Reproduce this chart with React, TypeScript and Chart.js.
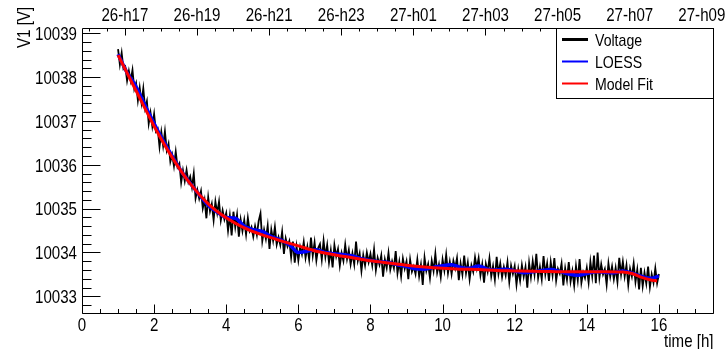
import React, { useEffect, useRef } from "react";
import { Chart, registerables } from "chart.js";

Chart.register(...registerables);

// ---------------- data ----------------
// Voltage samples, every 0.05 h from t = 1.00 h to t = 16.00 h
const T_START = 1.0;
const T_STEP = 0.05;
const VOLTAGE = [
  10038.64, 10038.29, 10038.55, 10038.19, 10038.24,
  10037.92, 10038.14, 10037.92, 10038.16, 10037.73,
  10037.86, 10037.47, 10037.76, 10037.42, 10037.74,
  10037.29, 10037.45, 10036.94, 10037.19, 10036.88,
  10037.16, 10036.76, 10036.82, 10036.41, 10036.75,
  10036.43, 10036.76, 10036.33, 10036.48, 10036.07,
  10036.23, 10035.97, 10036.30, 10035.95, 10036.03,
  10035.60, 10035.87, 10035.63, 10035.88, 10035.61,
  10035.73, 10035.49, 10035.80, 10035.24, 10035.43,
  10035.23, 10035.40, 10035.01, 10035.20, 10034.78,
  10035.26, 10034.94, 10035.11, 10034.74, 10035.16,
  10034.90, 10035.16, 10034.73, 10034.96, 10034.75,
  10034.90, 10034.50, 10034.84, 10034.39, 10034.93,
  10034.58, 10034.86, 10034.36, 10034.75, 10034.49,
  10034.74, 10034.41, 10034.79, 10034.49, 10034.58,
  10034.36, 10034.60, 10034.40, 10034.72, 10034.89,
  10034.26, 10034.52, 10034.31, 10034.61, 10034.08,
  10034.52, 10034.27, 10034.58, 10034.18, 10034.35,
  10034.17, 10034.47, 10033.97, 10034.32, 10034.14,
  10034.26, 10033.89, 10034.25, 10033.77, 10034.14,
  10033.82, 10034.13, 10033.96, 10034.24, 10033.88,
  10034.13, 10033.84, 10034.34, 10033.93, 10034.23,
  10033.82, 10034.10, 10034.19, 10033.84, 10034.27,
  10033.90, 10034.17, 10033.77, 10034.05, 10033.66,
  10034.17, 10033.91, 10034.08, 10033.70, 10033.99,
  10033.81, 10034.18, 10033.85, 10034.06, 10033.73,
  10033.98, 10033.73, 10034.25, 10033.81, 10033.98,
  10033.58, 10033.94, 10033.71, 10034.00, 10033.78,
  10033.97, 10033.71, 10034.07, 10033.60, 10033.88,
  10033.72, 10033.93, 10033.45, 10033.84, 10033.65,
  10033.99, 10033.61, 10033.80, 10033.64, 10034.03,
  10033.53, 10033.79, 10033.46, 10033.86, 10033.63,
  10033.80, 10033.39, 10033.84, 10033.56, 10033.68,
  10033.51, 10033.84, 10033.46, 10033.72, 10033.26,
  10033.88, 10033.58, 10033.74, 10033.42, 10033.81,
  10033.58, 10033.97, 10033.54, 10033.73, 10033.44,
  10033.84, 10033.59, 10033.95, 10033.53, 10033.79,
  10033.51, 10033.81, 10033.64, 10033.87, 10033.37,
  10033.75, 10033.50, 10033.93, 10033.53, 10033.77,
  10033.39, 10033.71, 10033.56, 10033.89, 10033.64,
  10033.87, 10033.48, 10033.73, 10033.31, 10033.74,
  10033.56, 10033.87, 10033.46, 10033.69, 10033.38,
  10033.90, 10033.51, 10033.75, 10033.44, 10033.67,
  10033.48, 10033.78, 10033.33, 10033.70, 10033.51,
  10033.69, 10033.27, 10033.62, 10033.36, 10033.71,
  10033.45, 10033.67, 10033.20, 10033.76, 10033.44,
  10033.80, 10033.50, 10033.97, 10033.42, 10033.67,
  10033.39, 10033.92, 10033.50, 10033.75, 10033.35,
  10033.78, 10033.48, 10033.87, 10033.36, 10033.63,
  10033.52, 10033.75, 10033.25, 10033.64, 10033.38,
  10033.78, 10033.34, 10033.58, 10033.25, 10033.69,
  10033.37, 10033.85, 10033.31, 10033.55, 10033.42,
  10033.65, 10033.32, 10033.79, 10033.46, 10033.93,
  10033.30, 10034.00, 10033.43, 10033.73, 10033.50,
  10033.62, 10033.27, 10033.75, 10033.45, 10033.68,
  10033.39, 10033.65, 10033.33, 10033.88, 10033.50,
  10033.79, 10033.45, 10033.71, 10033.26, 10033.63,
  10033.45, 10033.75, 10033.33, 10033.61, 10033.16,
  10033.65, 10033.23, 10033.54, 10033.29, 10033.68,
  10033.21, 10033.50, 10033.31, 10033.64, 10033.30,
  10033.51,
];

// LOESS smoothing
const LOESS_T = [
  1.0, 1.25, 1.5, 1.75, 2.0, 2.25, 2.5, 2.75, 3.0, 3.25, 3.5, 3.75,
  4.0, 4.25, 4.5, 4.75, 5.0, 5.25, 5.5, 5.75, 6.0, 6.25, 6.5, 6.75,
  7.0, 7.25, 7.5, 7.75, 8.0, 8.25, 8.5, 8.75, 9.0, 9.25, 9.5, 9.75,
  10.0, 10.25, 10.5, 10.75, 11.0, 11.25, 11.5, 11.75, 12.0, 12.25, 12.5, 12.75,
  13.0, 13.25, 13.5, 13.75, 14.0, 14.25, 14.5, 14.75, 15.0, 15.25, 15.5, 15.75, 16.0,
];
const LOESS_V = [
  10038.52, 10038.10, 10037.78, 10037.35, 10036.94, 10036.55, 10036.20, 10035.86,
  10035.58, 10035.32, 10035.08, 10034.92, 10034.80, 10034.78, 10034.60, 10034.52,
  10034.48, 10034.36, 10034.29, 10034.18, 10034.00, 10034.03, 10034.06, 10034.00,
  10033.97, 10033.95, 10033.92, 10033.86, 10033.82, 10033.79, 10033.77, 10033.72,
  10033.68, 10033.63, 10033.62, 10033.66, 10033.70, 10033.72, 10033.66, 10033.64,
  10033.69, 10033.62, 10033.60, 10033.62, 10033.58, 10033.54, 10033.56, 10033.59,
  10033.61, 10033.57, 10033.51, 10033.48, 10033.52, 10033.56, 10033.55, 10033.54,
  10033.58, 10033.53, 10033.46, 10033.41, 10033.46,
];

// Model fit
const FIT_T = [
  1.0, 1.5, 2.0, 2.5, 3.0, 3.5, 4.0, 4.5, 5.0, 5.5, 6.0, 6.5, 7.0, 7.5, 8.0,
  8.5, 9.0, 9.5, 10.0, 10.5, 11.0, 11.5, 12.0, 12.5, 13.0, 13.5, 14.0, 14.5,
  15.0, 15.25, 15.5, 15.75, 15.95,
];
const FIT_V = [
  10038.50, 10037.69, 10036.88, 10036.17, 10035.57, 10035.11, 10034.79, 10034.56,
  10034.40, 10034.27, 10034.15, 10034.03, 10033.95, 10033.88, 10033.81, 10033.76,
  10033.71, 10033.67, 10033.64, 10033.62, 10033.61, 10033.59, 10033.58, 10033.57,
  10033.565, 10033.56, 10033.56, 10033.56, 10033.555, 10033.52, 10033.44, 10033.38,
  10033.35,
];

const X_TICKS = [0, 2, 4, 6, 8, 10, 12, 14, 16];
const Y_TICKS = [10033, 10034, 10035, 10036, 10037, 10038, 10039];
const TOP_TICK_HOURS = [1.19, 3.19, 5.19, 7.19, 9.19, 11.19, 13.19, 15.19, 17.19];
const TOP_TICK_LABELS = [
  "26-h17", "26-h19", "26-h21", "26-h23", "27-h01", "27-h03", "27-h05", "27-h07", "27-h09",
];
const LEGEND_LABELS = ["Voltage", "LOESS", "Model Fit"];
const SERIES_COLORS = ["#000000", "#0000ff", "#ff0000"];

const X_MIN = 0;
const X_MAX = 17.5;
const Y_MIN = 10032.62;
const Y_MAX = 10039.12;

const FONT = "'Liberation Sans', Arial, sans-serif";
const SX = 0.815; // horizontal condensation to mimic the narrow ROOT font

function condText(
  ctx: CanvasRenderingContext2D,
  text: string,
  x: number,
  y: number,
  align: "left" | "center" | "right",
  size: number,
  sx: number = SX
) {
  ctx.save();
  ctx.font = `${size}px ${FONT}`;
  ctx.textAlign = "left";
  ctx.textBaseline = "alphabetic";
  const w = ctx.measureText(text).width * sx;
  const x0 = align === "left" ? x : align === "center" ? x - w / 2 : x - w;
  ctx.translate(x0, y);
  ctx.scale(sx, 1);
  ctx.fillText(text, 0, 0);
  ctx.restore();
}

const rootDecor = {
  id: "rootDecor",
  afterDraw(chart: any) {
    const { ctx, chartArea: a, scales } = chart;
    const xs = scales.x;
    const ys = scales.y;
    const xt = scales.x2;
    const L = Math.round(a.left) + 0.5;
    const R = Math.round(a.right) + 0.5;
    const T = Math.round(a.top) + 0.5;
    const B = Math.round(a.bottom) + 0.5;
    ctx.save();
    ctx.strokeStyle = "#000";
    ctx.lineWidth = 1;
    ctx.beginPath();
    ctx.rect(L, T, R - L, B - T);
    // bottom axis ticks (inward)
    for (let k = 0; k <= 35; k++) {
      const v = X_MIN + k * 0.5;
      if (v > X_MAX) break;
      const px = Math.round(xs.getPixelForValue(v)) + 0.5;
      const len = k % 4 === 0 ? 9 : 4.5;
      ctx.moveTo(px, B);
      ctx.lineTo(px, B - len);
    }
    // left axis ticks
    for (let k = 0; k <= 40; k++) {
      const v = 10032.8 + k * 0.2;
      if (v > Y_MAX) break;
      const py = Math.round(ys.getPixelForValue(v)) + 0.5;
      const major = Math.abs(v - Math.round(v)) < 1e-6;
      ctx.moveTo(L, py);
      ctx.lineTo(L + (major ? 18 : 9), py);
    }
    // top axis ticks
    for (let k = 0; k <= 40; k++) {
      const v = TOP_TICK_HOURS[0] - 1 + k * 0.5;
      if (v > X_MAX) break;
      const px = Math.round(xt.getPixelForValue(v)) + 0.5;
      const major = (k - 2) % 4 === 0;
      ctx.moveTo(px, T);
      ctx.lineTo(px, T + (major ? 7 : 3));
    }
    ctx.stroke();

    // tick labels from the scales' ticks
    ctx.fillStyle = "#000";
    xs.ticks.forEach((t: any) => {
      condText(ctx, String(t.value), xs.getPixelForValue(t.value), 331, "center", 18.5);
    });
    xt.ticks.forEach((t: any, i: number) => {
      condText(ctx, TOP_TICK_LABELS[i], xt.getPixelForValue(t.value), 21, "center", 18.5);
    });
    ys.ticks.forEach((t: any) => {
      condText(ctx, String(t.value), 77, ys.getPixelForValue(t.value) + 6.7, "right", 18.5);
    });

    // axis titles
    condText(ctx, "time [h]", R, 346.5, "right", 18.5);
    ctx.save();
    ctx.translate(30, 48);
    ctx.rotate(-Math.PI / 2);
    condText(ctx, "V1 [V]", 0, 0, "left", 18.5);
    ctx.restore();

    // legend
    const lx0 = 556.5, lx1 = R, ly0 = T, ly1 = 98.5;
    ctx.fillStyle = "#fff";
    ctx.fillRect(lx0, ly0, lx1 - lx0, ly1 - ly0);
    ctx.strokeStyle = "#000";
    ctx.lineWidth = 1;
    ctx.strokeRect(lx0, ly0, lx1 - lx0, ly1 - ly0);
    const rows = [39.5, 61.5, 83.5];
    const widths = [3, 2, 2];
    LEGEND_LABELS.forEach((lab, i) => {
      ctx.strokeStyle = SERIES_COLORS[i];
      ctx.lineWidth = widths[i];
      ctx.beginPath();
      ctx.moveTo(562, rows[i]);
      ctx.lineTo(588, rows[i]);
      ctx.stroke();
      ctx.fillStyle = "#000";
      condText(ctx, lab, 595, rows[i] + 6, "left", 17, 0.83);
    });
    ctx.restore();
  },
};

export default function App() {
  const ref = useRef<HTMLCanvasElement | null>(null);

  useEffect(() => {
    if (!ref.current) return;
    const voltagePts = VOLTAGE.map((v, i) => ({ x: T_START + i * T_STEP, y: v }));
    const loessPts = LOESS_T.map((t, i) => ({ x: t, y: LOESS_V[i] }));
    const fitPts = FIT_T.map((t, i) => ({ x: t, y: FIT_V[i] }));

    const chart = new Chart(ref.current, {
      type: "line",
      data: {
        datasets: [
          {
            label: LEGEND_LABELS[2],
            data: fitPts,
            borderColor: SERIES_COLORS[2],
            borderWidth: 3,
            pointRadius: 0,
            cubicInterpolationMode: "monotone",
            order: 0,
          },
          {
            label: LEGEND_LABELS[1],
            data: loessPts,
            borderColor: SERIES_COLORS[1],
            borderWidth: 3.5,
            pointRadius: 0,
            cubicInterpolationMode: "monotone",
            order: 1,
          },
          {
            label: LEGEND_LABELS[0],
            data: voltagePts,
            borderColor: SERIES_COLORS[0],
            borderWidth: 1.8,
            pointRadius: 0,
            tension: 0,
            order: 2,
          },
        ],
      },
      options: {
        responsive: false,
        maintainAspectRatio: false,
        animation: false,
        devicePixelRatio: 1,
        layout: { padding: { left: 0, right: 15, top: 0, bottom: 0 } },
        plugins: { legend: { display: false }, tooltip: { enabled: false } },
        elements: { point: { radius: 0 } },
        scales: {
          x: {
            type: "linear",
            position: "bottom",
            min: X_MIN,
            max: X_MAX,
            grid: { display: false, drawTicks: false },
            border: { display: false },
            afterBuildTicks: (s: any) => {
              s.ticks = X_TICKS.map((v) => ({ value: v }));
            },
            afterFit: (s: any) => {
              s.height = 36;
            },
            ticks: { display: false, autoSkip: false },
          },
          x2: {
            type: "linear",
            position: "top",
            min: X_MIN,
            max: X_MAX,
            grid: { display: false, drawTicks: false },
            border: { display: false },
            afterBuildTicks: (s: any) => {
              s.ticks = TOP_TICK_HOURS.map((v) => ({ value: v }));
            },
            afterFit: (s: any) => {
              s.height = 28;
            },
            ticks: { display: false, autoSkip: false },
          },
          y: {
            type: "linear",
            position: "left",
            min: Y_MIN,
            max: Y_MAX,
            grid: { display: false, drawTicks: false },
            border: { display: false },
            afterBuildTicks: (s: any) => {
              s.ticks = Y_TICKS.map((v) => ({ value: v }));
            },
            afterFit: (s: any) => {
              s.width = 82;
            },
            ticks: { display: false, autoSkip: false },
          },
        },
      },
      plugins: [rootDecor],
    });
    return () => chart.destroy();
  }, []);

  return (
    <canvas
      ref={ref}
      width={728}
      height={349}
      style={{ position: "absolute", left: 0, top: 0, display: "block", width: 728, height: 349 }}
    />
  );
}
